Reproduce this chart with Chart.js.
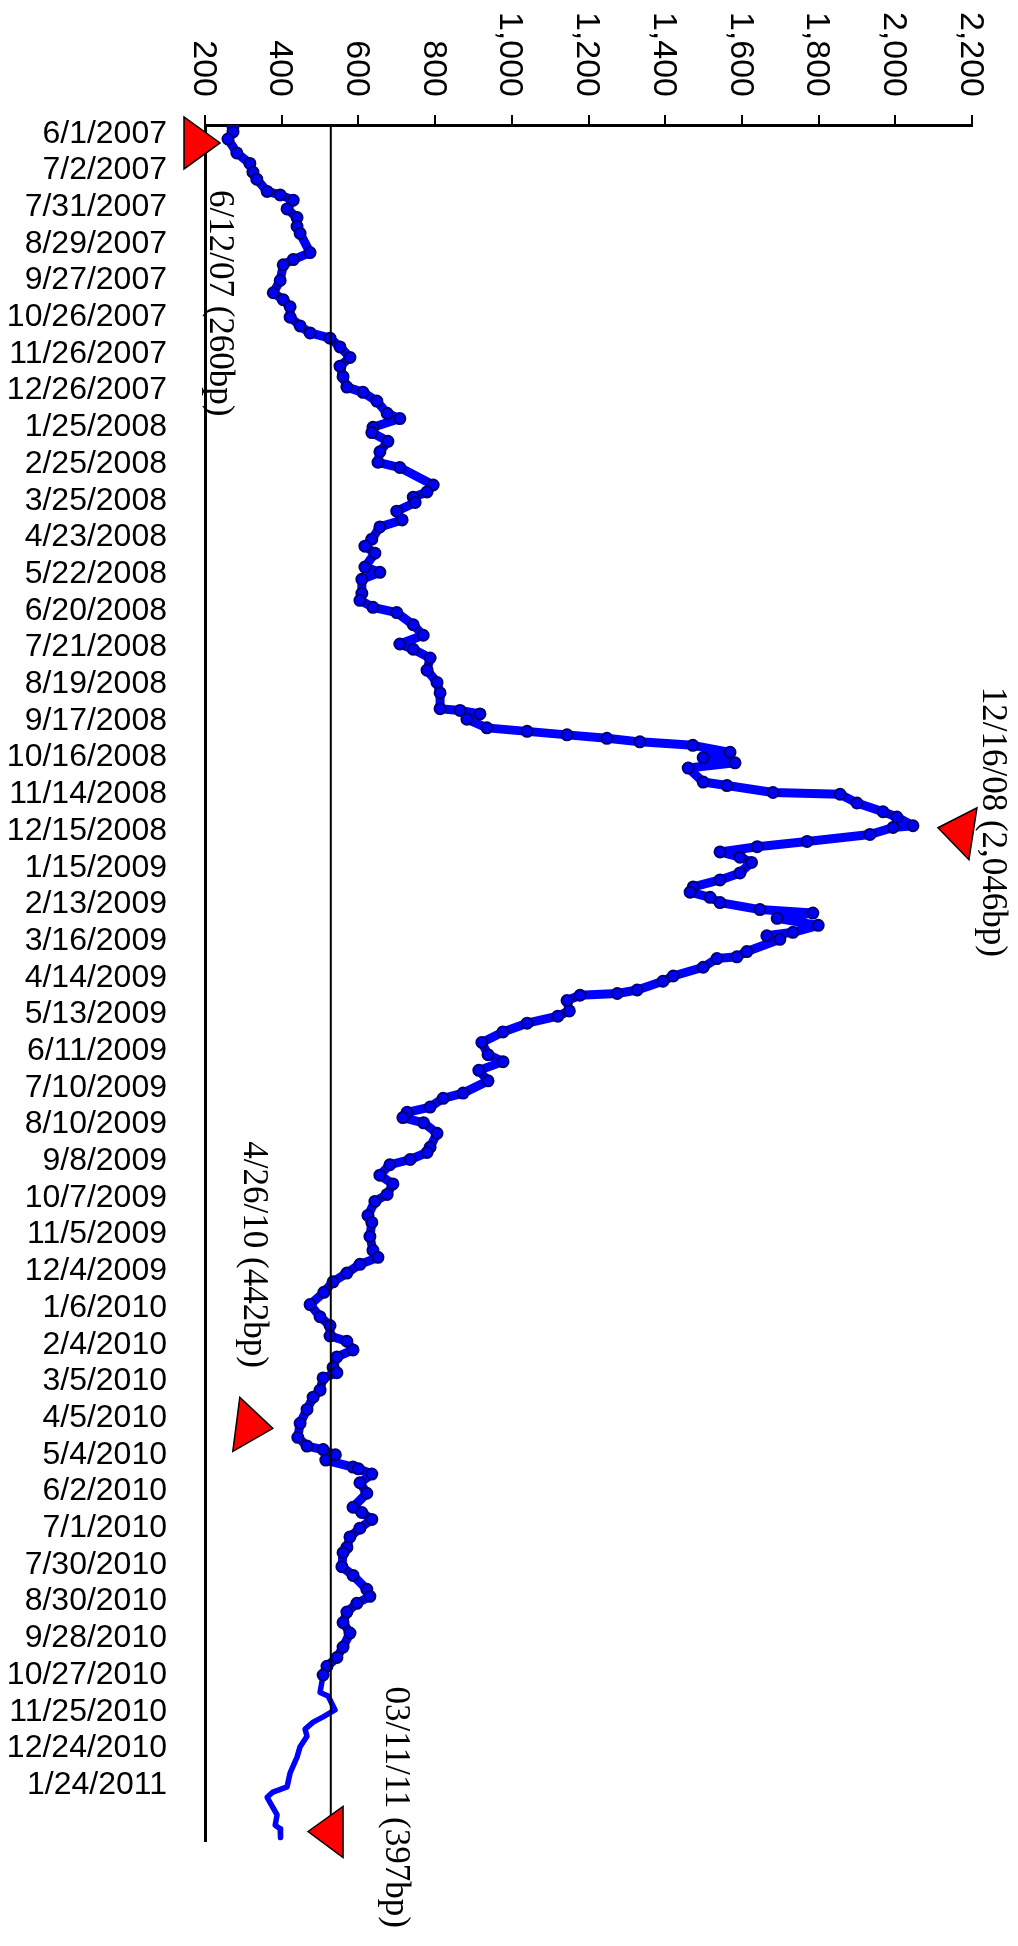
<!DOCTYPE html>
<html>
<head>
<meta charset="utf-8">
<script src="https://cdn.jsdelivr.net/npm/chart.js@4.4.1/dist/chart.umd.min.js"></script>
<style>
  html, body { margin: 0; padding: 0; background: #ffffff; }
  #wrap { width: 1018px; height: 1946px; }
</style>
</head>
<body>
<div id="wrap"><canvas id="chart" width="1018" height="1946"></canvas></div>
<script>
// Sessions are weekdays counted from 6/1/2007 (session 0); a date label every 21 sessions.
const LABEL_STEP = 21;
const sessionLabels = [
  '6/1/2007', '7/2/2007', '7/31/2007', '8/29/2007', '9/27/2007', '10/26/2007',
  '11/26/2007', '12/26/2007', '1/25/2008', '2/25/2008', '3/25/2008', '4/23/2008',
  '5/22/2008', '6/20/2008', '7/21/2008', '8/19/2008', '9/17/2008', '10/16/2008',
  '11/14/2008', '12/15/2008', '1/15/2009', '2/13/2009', '3/16/2009', '4/14/2009',
  '5/13/2009', '6/11/2009', '7/10/2009', '8/10/2009', '9/8/2009', '10/7/2009',
  '11/5/2009', '12/4/2009', '1/6/2010', '2/4/2010', '3/5/2010', '4/5/2010',
  '5/4/2010', '6/2/2010', '7/1/2010', '7/30/2010', '8/30/2010', '9/28/2010',
  '10/27/2010', '11/25/2010', '12/24/2010', '1/24/2011'
];

// Spread axis ticks (bp)
const spreadTicks = [200, 400, 600, 800, 1000, 1200, 1400, 1600, 1800, 2000, 2200];

// Spread series: session number and spread in basis points
const sessions = [
  0, 3, 7, 15, 21, 26, 30, 37, 39, 42, 47, 52, 57, 61, 72, 76, 79, 88, 95, 99,
  103, 109, 114, 118, 121, 126, 132, 137, 143, 149, 152, 157, 164, 167, 172, 175, 180, 186, 192, 195,
  205, 209, 212, 215, 220, 225, 229, 236, 240, 244, 252, 255, 259, 267, 271, 275, 278, 285, 291, 296,
  299, 304, 311, 318, 324, 333, 334, 336, 339, 344, 346, 348, 350, 352, 354, 358, 361, 364, 367, 375,
  377, 381, 382, 387, 392, 395, 400, 401, 405, 409, 412, 415, 418, 421, 427, 431, 435, 438, 441, 444,
  448, 450, 453, 457, 461, 463, 465, 472, 475, 476, 481, 486, 489, 494, 496, 497, 500, 506, 509, 513,
  518, 524, 531, 535, 540, 546, 553, 556, 561, 564, 567, 570, 576, 584, 587, 591, 594, 600, 605, 611,
  615, 623, 627, 635, 643, 647, 651, 656, 661, 667, 674, 681, 686, 692, 695, 700, 704, 710, 713, 716,
  723, 727, 734, 742, 750, 755, 757, 760, 763, 767, 768, 771, 776, 782, 790, 793, 797, 802, 807, 813,
  816, 824, 829, 837, 841, 845, 850, 856, 862, 870, 876, 881, 886, 896, 898, 906, 910, 913, 917, 921,
  927, 933, 942, 950, 953, 956, 961, 966, 972, 974, 979
];
const spreadBp = [
  273, 273, 260, 283, 317, 325, 335, 362, 396, 430, 414, 440, 440, 448, 474, 430, 404, 396, 378, 404,
  422, 422, 448, 474, 526, 552, 578, 552, 560, 570, 612, 648, 675, 708, 638, 635, 677, 656, 651, 708,
  795, 779, 743, 748, 700, 714, 656, 635, 617, 643, 617, 656, 609, 609, 604, 638, 700, 743, 769, 708,
  743, 787, 779, 805, 813, 813, 865, 917, 883, 935, 1040, 1144, 1248, 1334, 1472, 1569, 1499, 1582, 1460, 1499,
  1561, 1681, 1856, 1900, 1968, 2004, 2046, 1994, 1934, 1770, 1640, 1543, 1595, 1625, 1595, 1543, 1473, 1465, 1517, 1543,
  1647, 1785, 1692, 1799, 1733, 1665, 1699, 1613, 1587, 1535, 1499, 1421, 1394, 1327, 1275, 1178, 1144, 1150, 1120, 1040,
  977, 922, 938, 977, 914, 938, 873, 821, 787, 727, 716, 770, 805, 787, 779, 735, 682, 656, 690, 675,
  643, 625, 635, 630, 638, 651, 604, 570, 534, 510, 474, 500, 526, 526, 570, 586, 544, 534, 544, 508,
  500, 482, 466, 448, 442, 466, 508, 540, 515, 586, 600, 635, 604, 622, 586, 609, 635, 604, 578, 570,
  560, 557, 586, 622, 630, 596, 570, 560, 578, 560, 544, 518, 508, 500, 521, 539, 508, 482, 461, 466,
  448, 440, 422, 414, 377, 362, 375, 388, 383, 396, 397
];

// Period average (bp)
const averageBp = 528;

// Called-out observations
const calloutSessions = [7, 400, 750, 979];
const calloutValues = [260, 2046, 442, 397];
const calloutTexts = ['6/12/07 (260bp)', '12/16/08 (2,046bp)', '4/26/10 (442bp)', '03/11/11 (397bp)'];

// Last session drawn with the heavy marked line; later sessions use a plain thinner line.
const MARKED_LAST = 886;

// Pointer triangles and text anchors, as pixel offsets from each called-out point
const calloutLayout = [
  { tri: [[-44, -22], [-44, 30], [-8, 4]],      text: [-18, 51] },
  { tri: [[25, 2], [64, -18], [56, 34]],        text: [70, -139] },
  { tri: [[-58, -40], [-65, 14], [-25, -9]],    text: [-54, -296] },
  { tri: [[27.5, -6], [62.5, -31], [62.5, 20]], text: [105.5, -151] }
];

const calloutPlugin = {
  id: 'callouts',
  afterDraw(chart) {
    const { ctx } = chart;
    const xs = chart.scales.x;
    const ys = chart.scales.y;
    ctx.save();

    // Spread tick labels above the top axis, turned a quarter clockwise
    ctx.font = '34px "Liberation Sans", Arial, sans-serif';
    ctx.fillStyle = '#000000';
    ctx.textAlign = 'right';
    ctx.textBaseline = 'middle';
    xs.ticks.forEach(t => {
      const px = xs.getPixelForValue(t.value);
      ctx.save();
      ctx.translate(px - 2, 97);
      ctx.rotate(Math.PI / 2);
      ctx.fillText(t.value.toLocaleString('en-US'), 0, 0);
      ctx.restore();
    });

    // Triangles and notes next to the called-out points
    calloutSessions.forEach((s, i) => {
      const px = xs.getPixelForValue(calloutValues[i]);
      const py = ys.getPixelForValue(s);
      const lay = calloutLayout[i];

      ctx.beginPath();
      lay.tri.forEach(([dx, dy], k) => {
        if (k === 0) ctx.moveTo(px + dx, py + dy);
        else ctx.lineTo(px + dx, py + dy);
      });
      ctx.closePath();
      ctx.fillStyle = '#ff0000';
      ctx.fill();
      ctx.lineWidth = 1.5;
      ctx.strokeStyle = '#000000';
      ctx.lineJoin = 'miter';
      ctx.stroke();

      ctx.save();
      ctx.translate(px + lay.text[0], py + lay.text[1]);
      ctx.rotate(Math.PI / 2);
      ctx.font = '35px "Liberation Serif", "Times New Roman", serif';
      ctx.fillStyle = '#000000';
      ctx.textAlign = 'left';
      ctx.textBaseline = 'alphabetic';
      ctx.fillText(calloutTexts[i], 0, 0);
      ctx.restore();
    });

    ctx.restore();
  }
};

new Chart(document.getElementById('chart'), {
  type: 'line',
  data: {
    datasets: [
      {
        label: 'Average',
        data: [
          { x: averageBp, y: sessions[0] },
          { x: averageBp, y: sessions[sessions.length - 1] }
        ],
        borderColor: '#000000',
        borderWidth: 2,
        pointRadius: 0,
        order: 0
      },
      {
        label: 'Spread (bp)',
        data: sessions.map((s, i) => ({ x: spreadBp[i], y: s })),
        borderColor: '#0000ff',
        backgroundColor: '#0000ff',
        borderWidth: 9,
        borderJoinStyle: 'round',
        borderCapStyle: 'round',
        pointRadius: c => (c.raw && c.raw.y > MARKED_LAST) ? 0 : 5.5,
        pointBackgroundColor: '#0000ff',
        pointBorderColor: '#00006e',
        pointBorderWidth: 2,
        segment: {
          borderWidth: c => c.p0.parsed.y >= MARKED_LAST ? 5.5 : 9
        },
        tension: 0,
        order: 1
      }
    ]
  },
  options: {
    indexAxis: 'y',
    responsive: false,
    animation: false,
    layout: { padding: { left: 0, top: 0, right: 46, bottom: 105 } },
    plugins: { legend: { display: false }, tooltip: { enabled: false } },
    scales: {
      x: {
        type: 'linear',
        position: 'top',
        min: 200,
        max: 2200,
        afterBuildTicks: s => { s.ticks = spreadTicks.map(v => ({ value: v })); },
        afterFit: s => { s.height = 125; },
        ticks: { display: false },
        grid: {
          display: true,
          drawOnChartArea: false,
          drawTicks: true,
          tickLength: 10,
          color: '#000000',
          lineWidth: 2
        },
        border: { display: true, color: '#000000', width: 3 }
      },
      y: {
        type: 'linear',
        reverse: true,
        min: -1,
        max: 981,
        afterBuildTicks: s => { s.ticks = sessionLabels.map((_, i) => ({ value: i * LABEL_STEP })); },
        afterFit: s => { s.width = 205; },
        ticks: {
          autoSkip: false,
          padding: 38,
          labelOffset: 7,
          color: '#000000',
          font: { family: '"Liberation Sans", Arial, sans-serif', size: 32 },
          callback: v => sessionLabels[Math.round(v / LABEL_STEP)]
        },
        grid: { display: false, drawTicks: false },
        border: { display: true, color: '#000000', width: 3 }
      }
    }
  },
  plugins: [calloutPlugin]
});
</script>
</body>
</html>
